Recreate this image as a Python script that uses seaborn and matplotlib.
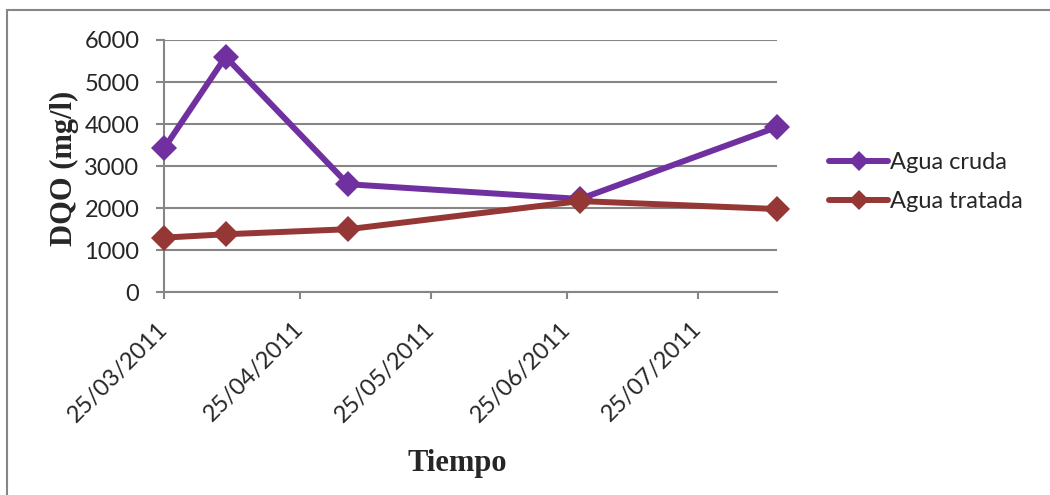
import matplotlib
matplotlib.use("Agg")
import matplotlib.pyplot as plt
import matplotlib.dates as mdates
from matplotlib.lines import Line2D
import pandas as pd
import seaborn as sns

# Sampling dates and COD measurements (mg/l)
fechas = ["2011-03-25", "2011-04-08", "2011-05-06", "2011-06-28", "2011-08-12"]
agua_cruda = [3430, 5600, 2570, 2220, 3930]
agua_tratada = [1300, 1380, 1500, 2170, 1980]
series = ["Agua cruda", "Agua tratada"]
colores = ["#7030A0", "#953735"]
ticks_fecha = ["2011-03-25", "2011-04-25", "2011-05-25", "2011-06-25", "2011-07-25"]
ticks_dqo = [0, 1000, 2000, 3000, 4000, 5000, 6000]

df = pd.DataFrame({
    "fecha": pd.to_datetime(fechas * 2),
    "dqo": agua_cruda + agua_tratada,
    "serie": [series[0]] * len(fechas) + [series[1]] * len(fechas),
})

sns.set_theme(style="white")
plt.rcParams["font.family"] = ["Lato", "DejaVu Sans"]

grid_gray = "#868686"
fig = plt.figure(figsize=(10.5, 4.95), dpi=100)
ax = fig.add_axes([164.3 / 1050, 1 - 292.3 / 495, (777 - 164.3) / 1050, (292.3 - 40) / 495])

sns.lineplot(
    data=df, x="fecha", y="dqo", hue="serie", style="serie",
    palette=colores, markers=["D", "D"], dashes=False,
    linewidth=4.3, markersize=13, markeredgewidth=0,
    legend=False, ax=ax, clip_on=False, zorder=3,
)

ax.set_ylim(0, 6000)
ax.set_yticks(ticks_dqo)
ax.set_xlim(pd.Timestamp(fechas[0]), pd.Timestamp(fechas[-1]))
ax.set_xticks(pd.to_datetime(ticks_fecha))
ax.xaxis.set_major_formatter(mdates.DateFormatter("%d/%m/%Y"))

ax.yaxis.grid(True, color=grid_gray, linewidth=1.5)
ax.xaxis.grid(False)
for s in ["top", "right"]:
    ax.spines[s].set_visible(False)
for s in ["left", "bottom"]:
    ax.spines[s].set_color(grid_gray)
    ax.spines[s].set_linewidth(1.5)

ax.tick_params(axis="y", direction="out", length=6, width=1.5, color=grid_gray,
               labelsize=17, pad=12, left=True)
ax.tick_params(axis="x", direction="out", length=5, width=1.5, color=grid_gray,
               labelsize=17, pad=19, bottom=True)
for lbl in ax.get_xticklabels():
    lbl.set_rotation(45)
    lbl.set_ha("right")
    lbl.set_va("center")
    lbl.set_rotation_mode("anchor")

ax.set_xlabel("")
ax.set_ylabel("")
fig.text(64 / 1050, 1 - 168 / 495, "DQO (mg/l)", rotation=90, ha="center", va="center",
         fontsize=22, fontweight="bold", family="Liberation Serif")
fig.text(457 / 1050, 1 - 464 / 495, "Tiempo", ha="center", va="center",
         fontsize=22, fontweight="bold", family="Liberation Serif")

handles = [
    Line2D([], [], color=c, linewidth=4.3, marker="D", markersize=10, markeredgewidth=0)
    for c in colores
]
fig.legend(handles, series, loc="center left", bbox_to_anchor=(829 / 1050, 1 - 182 / 495),
           frameon=False, fontsize=17, handlelength=2.5, handletextpad=0.1,
           labelspacing=0.75, borderaxespad=0, borderpad=0)

# Chart area border (top and left edges)
fig.add_artist(Line2D([7 / 1050, 7 / 1050], [0, 1 - 10 / 495], color=grid_gray,
                      linewidth=1.5, transform=fig.transFigure))
fig.add_artist(Line2D([7 / 1050, 1], [1 - 10 / 495, 1 - 10 / 495], color=grid_gray,
                      linewidth=1.5, transform=fig.transFigure))

fig.savefig("out.png", dpi=100, facecolor="white")
